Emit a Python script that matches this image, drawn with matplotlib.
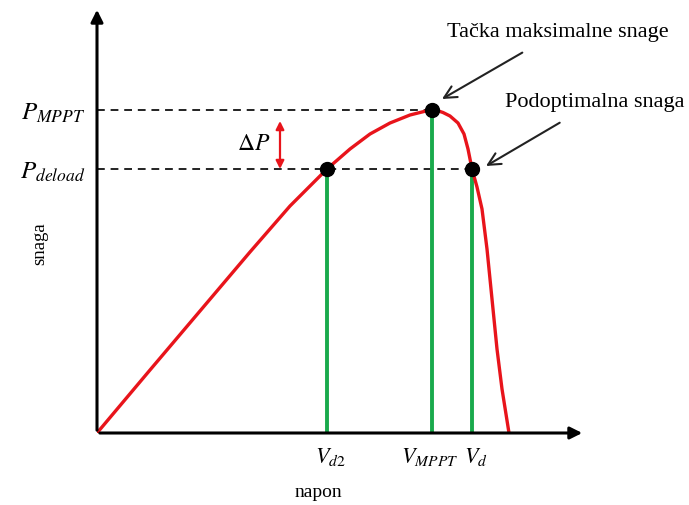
import matplotlib
matplotlib.use("Agg")
import matplotlib.pyplot as plt

plt.rcParams['mathtext.fontset'] = 'stix'
plt.rcParams['font.family'] = ['Liberation Serif', 'DejaVu Serif']

# P-V curve (napon vs snaga), arbitrary units
napon = [0, 53, 103, 153, 193, 213, 230, 253, 273, 293, 313, 325, 331, 335, 340, 346, 353,
         361, 367, 371, 375, 380, 385, 390, 395, 400, 405, 412]
snaga = [0, 63, 122, 181, 227, 247, 264, 284, 299, 310, 318, 321, 322.5, 323, 322.5, 320.5, 317,
         310, 299, 284, 264, 246, 224, 184, 134, 84, 44, 0]

V_d2, V_MPPT, V_d = 230, 335, 375
P_MPPT, P_deload = 323, 264

v_ticks = [V_d2, V_MPPT, V_d]
v_labels = [r'$V_{d2}$', r'$V_{MPPT}$', r'$V_d$']
p_ticks = [P_MPPT, P_deload]
p_labels = [r'$P_{MPPT}$', r'$P_{deload}$']

fig = plt.figure(figsize=(6.89, 5.06), dpi=100)
ax = fig.add_axes([97/689, 72/506, 488/689, 426/506])
ax.set_xlim(0, 488)
ax.set_ylim(0, 426)
ax.axis('off')

red = '#e8141b'
green = '#1aaa4c'

# dashed reference lines
ax.plot([0, V_MPPT], [P_MPPT, P_MPPT], color='#222222', lw=1.4, ls=(0, (4, 3)), zorder=1)
ax.plot([0, V_d], [P_deload, P_deload], color='#222222', lw=1.4, ls=(0, (4, 3)), zorder=1)

# green vertical lines
for v, p in [(V_d2, P_deload), (V_MPPT, P_MPPT), (V_d, P_deload)]:
    ax.plot([v, v], [0, p], color=green, lw=2.8, zorder=2)

# curve
ax.plot(napon, snaga, color=red, lw=2.4, zorder=3, solid_joinstyle='round')

# dots
ax.plot([V_d2, V_MPPT, V_d], [P_deload, P_MPPT, P_deload], 'o', color='black',
        markersize=10, zorder=4)

# axes arrows
ax.annotate('', xy=(0, 1.0), xytext=(0, 0), xycoords='axes fraction',
            arrowprops=dict(arrowstyle='-|>', lw=2.2, color='black', mutation_scale=18),
            annotation_clip=False)
ax.annotate('', xy=(1.0, 0), xytext=(0, 0), xycoords='axes fraction',
            arrowprops=dict(arrowstyle='-|>', lw=2.2, color='black', mutation_scale=18),
            annotation_clip=False)

# delta P arrow
ax.annotate('', xy=(183, P_deload), xytext=(183, 312),
            arrowprops=dict(arrowstyle='<|-|>', lw=1.6, color=red, mutation_scale=12,
                            shrinkA=0, shrinkB=0))
ax.text(173, 289, r'$\Delta P$', fontsize=17, ha='right', va='center')

# tick labels
for v, lab, dx in zip(v_ticks, v_labels, [3, -2, 4]):
    ax.text(v + dx, -23, lab, fontsize=16, ha='center', va='center', clip_on=False)
for p, lab in zip(p_ticks, p_labels):
    ax.text(-12, p - 2, lab, fontsize=18, ha='right', va='center', clip_on=False)

ax.text(221, -59, 'napon', fontsize=14, ha='center', va='center', clip_on=False)
ax.text(-57, 190, 'snaga', fontsize=13.5, ha='center', va='center', rotation=90, clip_on=False)

# annotations
ax.annotate('Tačka maksimalne snage', xy=(345, 334), xytext=(461, 401),
            fontsize=16, ha='center', va='center',
            arrowprops=dict(arrowstyle='->', lw=1.5, color='#222222', mutation_scale=22,
                            shrinkA=12, shrinkB=0),
            annotation_clip=False)
ax.annotate('Podoptimalna snaga', xy=(389, 267), xytext=(498, 331),
            fontsize=16, ha='center', va='center',
            arrowprops=dict(arrowstyle='->', lw=1.5, color='#222222', mutation_scale=22,
                            shrinkA=12, shrinkB=0),
            annotation_clip=False)

fig.savefig('out.png', dpi=100)
